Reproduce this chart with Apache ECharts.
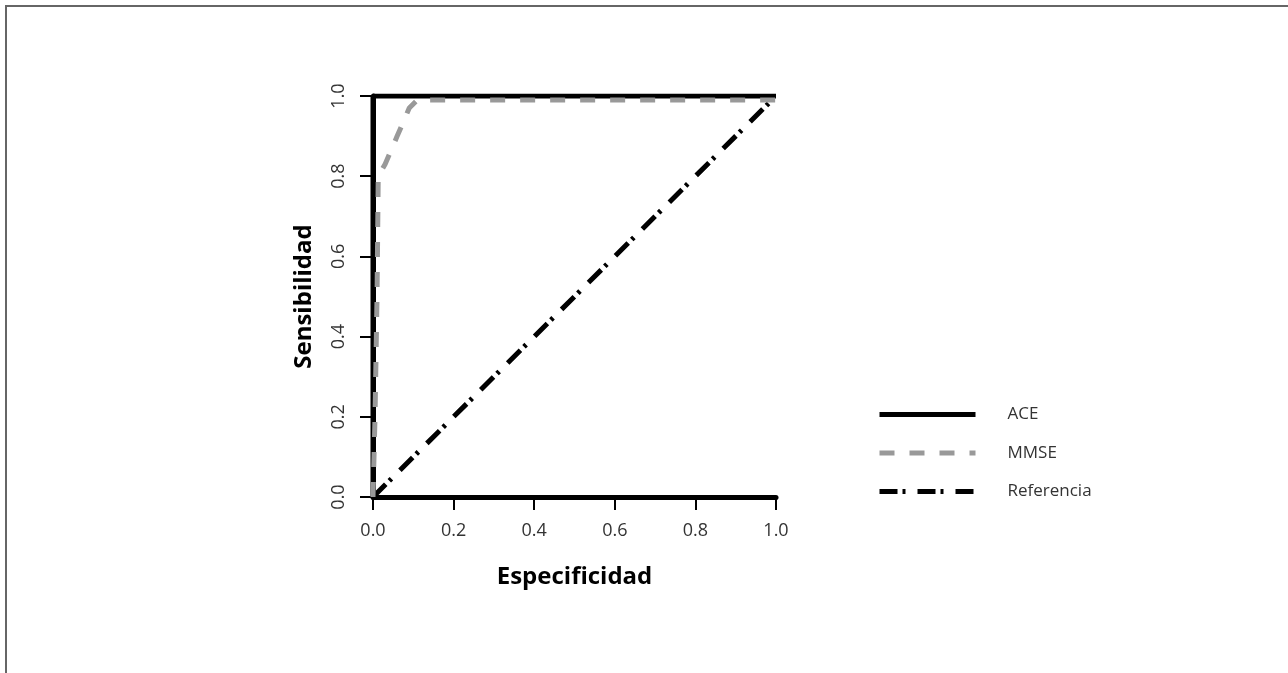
<!DOCTYPE html>
<html>
<head>
<meta charset="utf-8">
<script src="https://cdn.jsdelivr.net/npm/echarts@6/dist/echarts.min.js"></script>
<style>
  html, body { margin: 0; padding: 0; background: #fff; }
  #rocChart { width: 1288px; height: 673px; }
</style>
</head>
<body>
<div id="rocChart"></div>
<script>
  // curvas ROC (especificidad, sensibilidad)
  var aceData = [[0, 0], [0, 1], [1, 1]];
  var mmseData = [[0, 0], [0.005, 0.2], [0.01, 0.5], [0.013, 0.8], [0.03, 0.83], [0.06, 0.9], [0.09, 0.97], [0.11, 0.99], [1, 0.99]];
  var refData = [[0, 0], [1, 1]];
  var seriesNames = ['ACE', 'MMSE', 'Referencia'];
  var axisTicks = [0, 0.2, 0.4, 0.6, 0.8, 1.0];

  var labelFont = 'Open Sans';
  var chart = echarts.init(document.getElementById('rocChart'));

  var axisCommon = {
    type: 'value',
    min: axisTicks[0],
    max: axisTicks[axisTicks.length - 1],
    interval: 0.2,
    nameLocation: 'middle',
    nameTextStyle: { fontFamily: labelFont, fontWeight: 'bold', fontSize: 24, color: '#000' },
    axisLine: { show: true, lineStyle: { color: '#000', width: 5 } },
    axisTick: { show: true, length: 13, lineStyle: { color: '#000', width: 2 } },
    axisLabel: {
      fontFamily: labelFont, fontSize: 18, color: '#333', margin: 25,
      formatter: function (v) { return v.toFixed(1); }
    },
    splitLine: { show: false }
  };

  var option = {
    backgroundColor: '#fff',
    animation: false,
    grid: { left: 373, right: 512, top: 96, bottom: 176, containLabel: false },
    xAxis: Object.assign({}, axisCommon, { name: 'Especificidad', nameGap: 68 }),
    yAxis: Object.assign({}, axisCommon, {
      name: 'Sensibilidad', nameGap: 57,
      axisLabel: Object.assign({}, axisCommon.axisLabel, { rotate: 90 })
    }),
    legend: {
      orient: 'vertical',
      left: 877,
      top: 406,
      padding: 0,
      itemWidth: 96,
      itemHeight: 16,
      itemGap: 21.5,
      data: seriesNames,
      itemStyle: { opacity: 0 },
      lineStyle: { width: 5 },
      textStyle: { fontFamily: labelFont, fontSize: 17, color: '#333', padding: [0, 0, 0, 27] }
    },
    graphic: [{
      type: 'polyline',
      shape: { points: [[6, 673], [6, 6], [1288, 6]] },
      style: { stroke: '#666', lineWidth: 2, fill: null },
      silent: true
    }],
    series: [
      {
        name: seriesNames[0], type: 'line', data: aceData, symbol: 'none', z: 3,
        lineStyle: { color: '#000', width: 5, type: 'solid' },
        itemStyle: { color: '#000' }
      },
      {
        name: seriesNames[1], type: 'line', data: mmseData, symbol: 'none', z: 4,
        lineStyle: { color: '#999', width: 5, type: [15, 15] },
        itemStyle: { color: '#999' }
      },
      {
        name: seriesNames[2], type: 'line', data: refData, symbol: 'none', z: 2,
        lineStyle: { color: '#000', width: 5, type: [18, 5, 3, 12] },
        itemStyle: { color: '#000' }
      }
    ]
  };
  chart.setOption(option);
</script>
</body>
</html>
